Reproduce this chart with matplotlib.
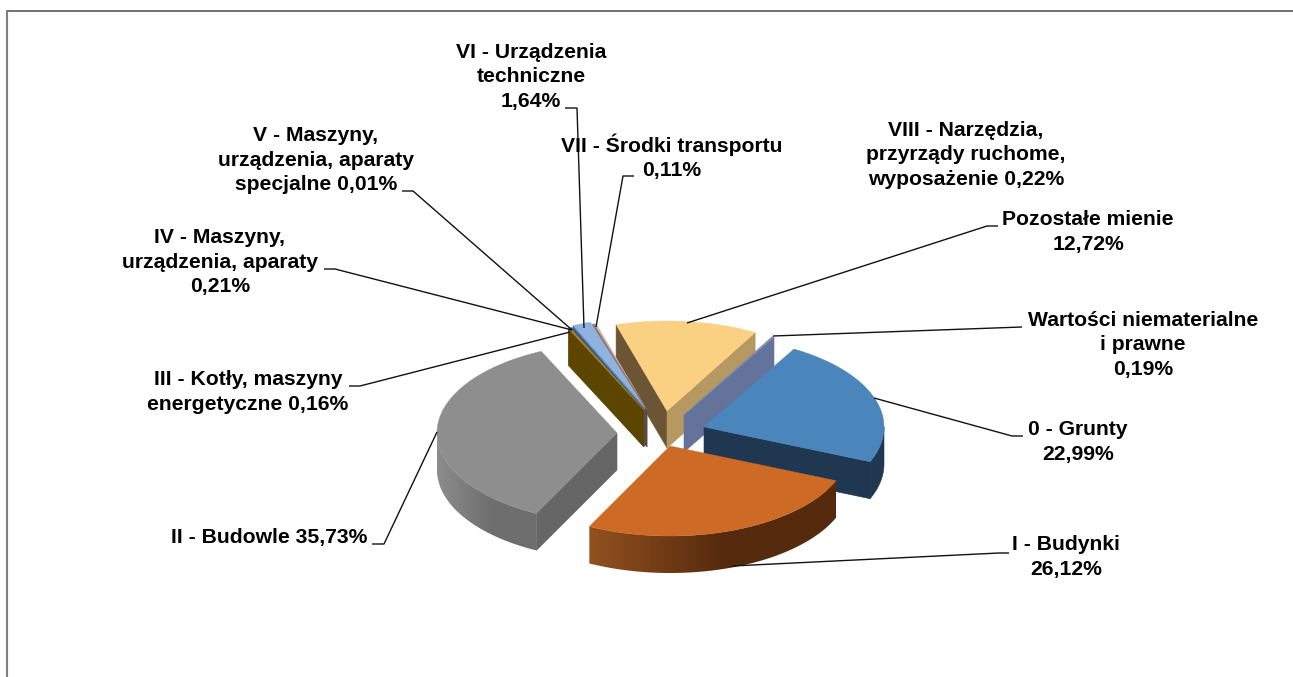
"""
Exploded pseudo-3D pie of asset groups, drawn with polygons in pixel coordinates.
"""

import matplotlib
matplotlib.use('Agg')
import matplotlib.pyplot as plt
from matplotlib.colors import to_rgb
from matplotlib.patches import Polygon
import numpy as np

plt.rcParams['font.family'] = ['Liberation Sans', 'DejaVu Sans']

names = ['0 - Grunty', 'I - Budynki', 'II - Budowle', 'III - Kotły', 'IV - Maszyny',
         'V - Maszyny', 'VI - Urządzenia', 'VII - Środki', 'VIII - Narzędzia',
         'Pozostałe', 'Wartości']
values = [22.99, 26.12, 35.73, 0.16, 0.21, 0.01, 1.64, 0.11, 0.22, 12.72, 0.19]

labels = [
    '0 - Grunty\n22,99%',
    'I - Budynki\n26,12%',
    'II - Budowle 35,73%',
    'III - Kotły, maszyny\nenergetyczne 0,16%',
    'IV - Maszyny,\nurządzenia, aparaty\n0,21%',
    'V - Maszyny,\nurządzenia, aparaty\nspecjalne 0,01%',
    'VI - Urządzenia\ntechniczne\n1,64%',
    'VII - Środki transportu\n0,11%',
    'VIII - Narzędzia,\nprzyrządy ruchome,\nwyposażenie 0,22%',
    'Pozostałe mienie\n12,72%',
    'Wartości niematerialne\ni prawne\n0,19%',
]

# Layout, all in pixels of the 1293x677 picture
CX, CY = 665, 433
RX, RY = 180, 90
DEPTH = 37
START_ANGLE = -60

# slice offset from the pie centre (explosion)
offsets = [(39, -6), (5, 13), (-48, 0), (-21, -23), (-21, -23), (-20, -24), (-20, -25),
           (-18, -23), (-18, -23), (2, -22), (19, -18)]
tops = ['#4A86BC', '#CC6A26', '#8E8E8E', '#C98A10', '#2F5F8F', '#6C8EB8', '#8FB3DF',
        '#A5705A', '#C4B8B8', '#FAD082', '#7D8DB5']
face_start = ['#1F3750', '#552A0D', '#666666', '#5B4500', '#2F5F8F', '#46597A', '#46597A',
              '#6B4030', '#6B6060', '#6B5535', '#46597A']
face_end = ['#1F3750', '#552A0D', '#666666', '#5B4500', '#2F5F8F', '#46597A', '#46597A',
            '#6B4030', '#6B6060', '#B59862', '#64739A']
rim_left = ['#1F3750', '#91511F', '#8C8C8C', '#5B4500', '#2F5F8F', '#46597A', '#46597A',
            '#6B4030', '#6B6060', '#B59862', '#64739A']
rim_right = ['#1F3750', '#552A0D', '#6E6E6E', '#5B4500', '#2F5F8F', '#46597A', '#46597A',
             '#6B4030', '#6B6060', '#B59862', '#64739A']
# back slices first, the big front ones last
draw_order = [9, 10, 8, 7, 6, 5, 4, 3, 2, 0, 1]

# text centre per label
label_pos = [(1078, 442), (1066, 557), (269, 537), (248, 392), (220, 262), (316, 160),
             (531, 77), (672, 157), (966, 155), (1088, 232), (1143, 345)]
# label end, elbow, point on the slice
leaders = [
    [(1023, 436), (1012, 436), (874, 398)],
    [(1009, 553), (999, 553), (732, 566)],
    [(372, 544), (384, 544), (437, 432)],
    [(349, 386), (360, 386), (570, 332)],
    [(324, 269), (335, 269), (572, 330)],
    [(402, 191), (413, 191), (572, 330)],
    [(565, 108), (577, 108), (584, 328)],
    [(634, 176), (623, 176), (596, 327)],
    None,
    [(998, 226), (987, 226), (687, 323)],
    [(1022, 327), (773, 336)],
]


def ellipse_points(x0, y0, t0, t1):
    t = np.radians(np.linspace(t0, t1, max(2, int(abs(t1 - t0)) * 2 + 2)))
    return np.column_stack([x0 + RX * np.cos(t), y0 + RY * np.sin(t)])


def draw_face(ax, apex, rim_point, color, z):
    ax.add_patch(Polygon([apex, rim_point, (rim_point[0], rim_point[1] + DEPTH),
                          (apex[0], apex[1] + DEPTH)], closed=True, fc=color, ec=color,
                         lw=0.4, zorder=z))


def draw_rim(ax, x0, y0, t0, t1, left, right, z):
    # outer wall is only seen on the front half of the ellipse
    lo, hi = max(t0, 0), min(t1, 180)
    if hi <= lo:
        return
    pts = ellipse_points(x0, y0, lo, hi)
    outline = np.vstack([pts, pts[::-1] + [0, DEPTH]])
    if left == right:
        ax.add_patch(Polygon(outline, closed=True, fc=left, ec=left, lw=0.4, zorder=z))
        return
    # gradient runs from the left colour to the right colour over 55% of the width
    xmin, xmax = pts[:, 0].min(), pts[:, 0].max()
    u = np.clip(np.linspace(0, 1, 64) / 0.55, 0, 1)[:, None]
    img = np.array(to_rgb(left)) * (1 - u) + np.array(to_rgb(right)) * u
    im = ax.imshow(img[None, :, :], extent=(xmin, xmax, outline[:, 1].max(), outline[:, 1].min()),
                   aspect='auto', interpolation='bilinear', zorder=z)
    im.set_clip_path(Polygon(outline, closed=True, transform=ax.transData))


fig = plt.figure(figsize=(12.93, 6.77), dpi=100, facecolor='white')
ax = fig.add_axes([0, 0, 1, 1])
ax.set_axis_off()

# only the top and left border of the frame are in the picture
ax.plot([6, 1293], [10.8, 10.8], color='#5A5A5A', lw=1.2, zorder=1, solid_capstyle='butt')
ax.plot([7, 7], [10, 677], color='#808080', lw=1.5, zorder=1, solid_capstyle='butt')

shares = np.array(values) / np.sum(values) * 360
ends = START_ANGLE + np.cumsum(shares)
starts = ends - shares

for z, i in enumerate(draw_order):
    x0, y0 = CX + offsets[i][0], CY + offsets[i][1]
    t0, t1 = starts[i], ends[i]
    z_base = 2 + z
    arc = ellipse_points(x0, y0, t0, t1)
    if np.cos(np.radians(t0)) < 0:
        draw_face(ax, (x0, y0), arc[0], face_start[i], z_base)
    if np.cos(np.radians(t1)) > 0:
        draw_face(ax, (x0, y0), arc[-1], face_end[i], z_base)
    draw_rim(ax, x0, y0, t0, t1, rim_left[i], rim_right[i], z_base)
    ax.add_patch(Polygon(np.vstack([[x0, y0], arc]), closed=True, fc=tops[i], ec=tops[i],
                         lw=0.3, zorder=z_base + 0.5))

for leader in leaders:
    if leader is not None:
        xs, ys = zip(*leader)
        ax.plot(xs, ys, color='#111111', lw=1.0, zorder=30, solid_capstyle='butt')

for text, (tx, ty) in zip(labels, label_pos):
    ax.text(tx, ty, text, ha='center', va='center', fontsize=15.25, fontweight='bold',
            color='black', linespacing=1.35, zorder=31)

ax.set_xlim(0, 1293)
ax.set_ylim(677, 0)
fig.savefig('out.png', dpi=100)
